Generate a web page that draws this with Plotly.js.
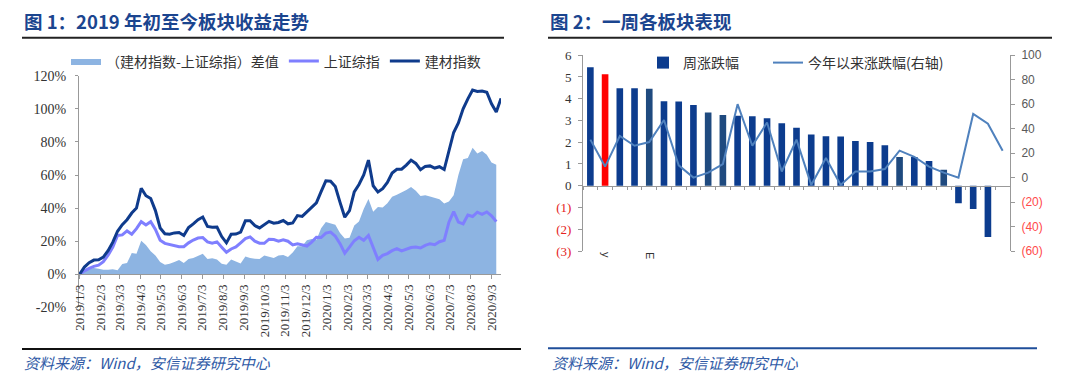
<!DOCTYPE html>
<html>
<head>
<meta charset="utf-8">
<script src="https://cdn.plot.ly/plotly-3.0.1.min.js"></script>
<style>html,body{margin:0;padding:0;background:#fff}#chart{width:1080px;height:383px}</style>
</head>
<body>
<div id="chart"></div>
<script>
// ---------- Figure 1 data (weekly samples, %) ----------
const weekDates = [
 '2019-01-03','2019-01-10','2019-01-17','2019-01-24','2019-01-31','2019-02-07','2019-02-14','2019-02-21','2019-02-28',
 '2019-03-07','2019-03-14','2019-03-21','2019-03-28','2019-04-04','2019-04-11','2019-04-18','2019-04-25',
 '2019-05-02','2019-05-09','2019-05-16','2019-05-23','2019-05-30','2019-06-06','2019-06-13','2019-06-20','2019-06-27',
 '2019-07-04','2019-07-11','2019-07-18','2019-07-25','2019-08-01','2019-08-08','2019-08-15','2019-08-22','2019-08-29',
 '2019-09-05','2019-09-12','2019-09-19','2019-09-26','2019-10-03','2019-10-10','2019-10-17','2019-10-24','2019-10-31',
 '2019-11-07','2019-11-14','2019-11-21','2019-11-28','2019-12-05','2019-12-12','2019-12-19','2019-12-26',
 '2020-01-02','2020-01-09','2020-01-16','2020-01-23','2020-01-30','2020-02-06','2020-02-13','2020-02-20','2020-02-27',
 '2020-03-05','2020-03-12','2020-03-19','2020-03-26','2020-04-02','2020-04-09','2020-04-16','2020-04-23','2020-04-30',
 '2020-05-07','2020-05-14','2020-05-21','2020-05-28','2020-06-04','2020-06-11','2020-06-18','2020-06-25',
 '2020-07-02','2020-07-09','2020-07-16','2020-07-23','2020-07-30','2020-08-06','2020-08-13','2020-08-20','2020-08-27',
 '2020-09-03','2020-09-10','2020-09-17'
];
const jcIndex = [0,4.4,7.0,8.6,8.8,10.4,14.3,19.4,26.0,30.0,33.0,37.0,40.0,52.0,47.5,45.8,38.5,28.0,24.5,24.2,
 25.0,25.3,23.5,28.3,30.5,33.0,34.6,28.9,28.5,28.6,22.8,19.0,24.2,24.3,25.5,32.3,32.4,29.4,28.0,30.0,
 32.0,30.9,31.3,32.5,30.5,31.0,35.5,35.0,37.7,40.8,43.2,50.0,56.5,56.2,53.0,43.5,34.5,38.5,49.8,54.3,
 60.0,69.0,53.5,49.7,51.7,55.5,61.2,63.5,63.5,66.0,69.0,67.0,63.2,65.2,65.5,64.2,65.0,63.3,75.5,85.7,
 91.5,100.0,106.0,111.3,110.5,110.7,110.0,103.0,98.0,106.3];
const szIndex = [0,2.1,3.6,4.8,5.5,7.6,11.5,16.4,23.5,23.8,26.2,24.2,27.6,31.8,29.8,31.8,27.1,20.6,18.7,17.9,
 17.5,16.6,16.7,19.0,20.7,21.9,22.2,19.6,18.8,19.6,16.4,13.3,15.3,16.5,19.0,21.6,22.6,20.0,18.8,18.7,
 21.2,21.0,20.0,20.9,20.0,17.8,18.5,18.0,17.1,19.5,22.4,22.2,24.9,25.5,23.0,18.5,12.8,16.4,20.3,22.4,
 20.5,23.5,15.7,9.0,11.4,12.5,14.3,15.5,14.1,15.1,16.2,16.5,15.9,17.5,18.5,17.9,19.7,20.5,31.5,37.9,
 31.5,30.5,35.8,34.9,37.5,36.2,37.7,35.4,31.8];
const spreadVals = [0,2.3,3.4,3.8,3.3,2.8,2.8,3.0,2.5,6.2,6.8,12.8,12.4,20.2,17.7,14.0,11.4,7.4,5.8,6.3,
 7.5,8.7,6.8,9.3,9.8,11.1,12.4,9.3,9.7,9.0,6.4,5.7,8.9,7.8,6.5,10.7,9.8,9.4,9.2,11.3,
 10.8,9.9,11.3,11.6,10.5,13.2,17.0,17.0,20.6,21.3,20.8,27.8,31.6,30.7,30.0,25.0,21.7,22.1,29.5,31.9,
 39.5,45.5,37.8,40.7,40.3,43.0,46.9,48.0,49.4,50.9,52.8,50.5,47.3,47.7,47.0,46.3,45.3,42.8,44.0,47.8,
 60.0,69.5,70.2,76.4,73.0,74.5,72.3,67.6,66.2];
const tickDates = ['2019-01-03','2019-02-03','2019-03-03','2019-04-03','2019-05-03','2019-06-03','2019-07-03',
 '2019-08-03','2019-09-03','2019-10-03','2019-11-03','2019-12-03','2020-01-03','2020-02-03','2020-03-03',
 '2020-04-03','2020-05-03','2020-06-03','2020-07-03','2020-08-03','2020-09-03'];
const tickLabels = ['2019/1/3','2019/2/3','2019/3/3','2019/4/3','2019/5/3','2019/6/3','2019/7/3',
 '2019/8/3','2019/9/3','2019/10/3','2019/11/3','2019/12/3','2020/1/3','2020/2/3','2020/3/3',
 '2020/4/3','2020/5/3','2020/6/3','2020/7/3','2020/8/3','2020/9/3'];
const pctTicks = [-20,0,20,40,60,80,100,120];

// ---------- Figure 2 data ----------
const sectorPos = [0,1,2,3,4,5,6,7,8,9,10,11,12,13,14,15,16,17,18,19,20,21,22,23,24,25,26,27,28];
const sectorTickPos = [1,4];
const sectorTickText = ['y','E'];
const weekChg = [5.45,5.12,4.48,4.48,4.46,3.88,3.87,3.71,3.37,3.25,3.22,3.19,3.10,2.87,2.67,2.36,2.28,2.26,
 2.06,2.01,1.86,1.32,1.32,1.14,0.74,-0.81,-1.07,-2.36,null];
const ytdChg = [31,9,34,26,29,47,10,0,4,11,60,26,45,5,31,-6,16,-6,5,5,7,22,17,9,4,0,52,44,22];
const leftTicks = [-3,-2,-1,0,1,2,3,4,5,6];
const rightTicks = [-60,-40,-20,0,20,40,60,80,100];

// ---------- styles ----------
const NAVY = '#0c3c8e', SLATE = '#1f4a7f', RED = '#ff0000';
const barColors = sectorPos.map(i => i === 1 ? RED : ([4,8,9,21,24].includes(i) ? SLATE : NAVY));
const W = 1080, H = 383;
const px = v => v / W, py = v => 1 - v / H;
const CJK = 'Noto Sans CJK SC';
const SERIF = 'Liberation Serif';

const neg = (t, c) => `<span style="color:${c}">${t}</span>`;
const leftText = leftTicks.map(v => v < 0 ? neg('(' + (-v) + ')', '#e52222') : String(v));
const rightText = rightTicks.map(v => v < 0 ? neg('(' + (-v) + ')', '#ff4a4a') : String(v));

const yDom1 = [py(307.4), py(75.7)], yRange1 = [-20, 120];
const yDom2 = [py(251), py(55.2)], yRange2 = [-3, 6];
const zeroPos = (dom, rng) => dom[0] + (0 - rng[0]) / (rng[1] - rng[0]) * (dom[1] - dom[0]);

const traces = [
 {x: weekDates, y: spreadVals, type:'scatter', mode:'lines', fill:'tozeroy', fillcolor:'#8db4e2',
  line:{width:0, color:'#8db4e2'}, name:'（建材指数-上证综指）差值', xaxis:'x', yaxis:'y'},
 {x: weekDates, y: szIndex, type:'scatter', mode:'lines', line:{color:'#7f7fff', width:3},
  name:'上证综指', xaxis:'x', yaxis:'y'},
 {x: weekDates, y: jcIndex, type:'scatter', mode:'lines', line:{color:'#0f3b8c', width:3},
  name:'建材指数', xaxis:'x', yaxis:'y'},
 {x: sectorPos, y: weekChg, type:'bar', marker:{color: barColors}, name:'周涨跌幅',
  xaxis:'x2', yaxis:'y2', legend:'legend2'},
 {x: sectorPos, y: ytdChg, type:'scatter', mode:'lines', line:{color:'#4f81bd', width:2},
  name:'今年以来涨跌幅(右轴)', xaxis:'x3', yaxis:'y3', legend:'legend3'}
];

const axisBase = {showgrid:false, zeroline:false, automargin:false, fixedrange:true};
const legendBase = {xanchor:'left', yanchor:'middle', orientation:'h', bgcolor:'rgba(0,0,0,0)',
  font:{family: CJK, size:14, color:'#333'}, itemwidth:30};

const layout = {
 width: W, height: H, margin:{l:0,r:0,t:0,b:0}, paper_bgcolor:'#fff', plot_bgcolor:'rgba(0,0,0,0)',
 font:{family: SERIF, color:'#333'}, showlegend:true, bargap:0.55,
 xaxis: Object.assign({}, axisBase, {domain:[px(79), px(501)], anchor:'free', position: zeroPos(yDom1, yRange1),
  type:'date', range:['2019-01-02','2020-09-17'], tickvals: tickDates, ticktext: tickLabels, tickangle:-90,
  ticks:'outside', ticklen:4, tickcolor:'#999', showline:true, linecolor:'#999', linewidth:1,
  tickfont:{family: SERIF, size:13, color:'#333'}}),
 yaxis: Object.assign({}, axisBase, {domain: yDom1, anchor:'x', range: yRange1, tickvals: pctTicks,
  ticktext: pctTicks.map(v => v + '%'), ticks:'outside', ticklen:3, tickcolor:'#999', showline:true,
  linecolor:'#999', linewidth:1, ticklabelstandoff:6, tickfont:{family: SERIF, size:14, color:'#333'}}),
 xaxis2: Object.assign({}, axisBase, {domain:[px(583), px(1010)], anchor:'y2', range:[-0.5, 28.5],
  tickvals: sectorTickPos, ticktext: sectorTickText, tickangle:90, ticks:'', showline:false,
  tickfont:{family:'Liberation Sans', size:11, color:'#333'}}),
 xaxis3: Object.assign({}, axisBase, {overlaying:'x2', anchor:'free', position: zeroPos(yDom2, yRange2),
  range:[-0.5, 28.5], tickmode:'linear', tick0:-0.5, dtick:1, ticks:'outside', ticklen:3, tickcolor:'#999',
  showticklabels:false, showline:true, linecolor:'#999', linewidth:1}),
 yaxis2: Object.assign({}, axisBase, {domain: yDom2, anchor:'x2', range: yRange2, tickvals: leftTicks,
  ticktext: leftText, ticks:'outside', ticklen:4, tickcolor:'#999', showline:true, linecolor:'#999',
  linewidth:1, ticklabelstandoff:4, tickfont:{family: SERIF, size:13, color:'#333'}}),
 yaxis3: Object.assign({}, axisBase, {overlaying:'y2', anchor:'x2', side:'right', range:[-60,100],
  tickvals: rightTicks, ticktext: rightText, ticks:'outside', ticklen:4, tickcolor:'#999', showline:true,
  linecolor:'#999', linewidth:1, ticklabelstandoff:4, tickfont:{family:'Liberation Sans', size:12, color:'#595959'}}),
 legend: Object.assign({}, legendBase, {x: px(66), y: py(61.5), traceorder:'normal'}),
 legend2: Object.assign({}, legendBase, {x: px(643), y: py(63)}),
 legend3: Object.assign({}, legendBase, {x: px(768), y: py(63)}),
 annotations: [
  {xref:'paper', yref:'paper', x: px(22), y: py(21), xanchor:'left', yanchor:'middle', showarrow:false,
   text:'图 1：2019 年初至今板块收益走势', font:{family: CJK, size:18.5, color:'#1b458f', weight:'bold'}},
  {xref:'paper', yref:'paper', x: px(548), y: py(21), xanchor:'left', yanchor:'middle', showarrow:false,
   text:'图 2：一周各板块表现', font:{family: CJK, size:18.5, color:'#1b458f', weight:'bold'}},
  {xref:'paper', yref:'paper', x: px(22), y: py(362.5), xanchor:'left', yanchor:'middle', showarrow:false,
   text:'<i>资料来源：Wind，安信证券研究中心</i>', font:{family: CJK, size:15, color:'#2f5aa6'}},
  {xref:'paper', yref:'paper', x: px(550), y: py(362.5), xanchor:'left', yanchor:'middle', showarrow:false,
   text:'<i>资料来源：Wind，安信证券研究中心</i>', font:{family: CJK, size:15, color:'#2f5aa6'}}
 ],
 shapes: [
  {type:'line', xref:'paper', yref:'paper', x0: px(22), x1: px(504), y0: py(37.7), y1: py(37.7), line:{color:'#222', width:2}},
  {type:'line', xref:'paper', yref:'paper', x0: px(548), x1: px(1052), y0: py(37.7), y1: py(37.7), line:{color:'#222', width:2}},
  {type:'line', xref:'paper', yref:'paper', x0: px(22), x1: px(521), y0: py(349), y1: py(349), line:{color:'#111', width:2}},
  {type:'line', xref:'paper', yref:'paper', x0: px(548), x1: px(1037), y0: py(348.3), y1: py(348.3), line:{color:'#1f4e9a', width:2}}
 ]
};

Plotly.newPlot('chart', traces, layout, {displayModeBar:false, staticPlot:true});
</script>
</body>
</html>
